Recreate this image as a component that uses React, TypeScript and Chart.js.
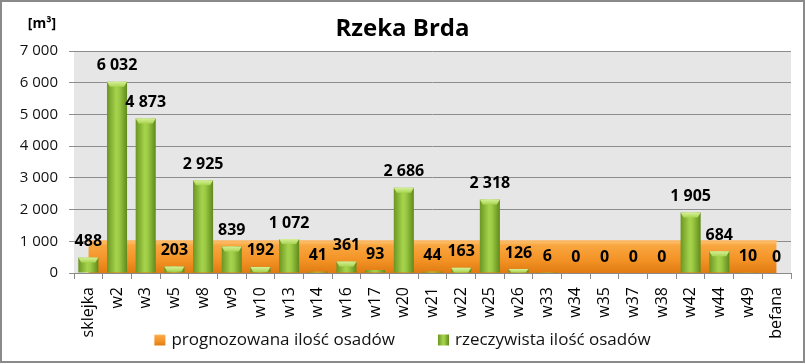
import React, { useEffect, useRef } from 'react';
import { Chart, registerables } from 'chart.js';

Chart.register(...registerables);

const chartTitle = 'Rzeka Brda';
const unitLabel = '[m³]';
const categories = ['sklejka', 'w2', 'w3', 'w5', 'w8', 'w9', 'w10', 'w13', 'w14', 'w16', 'w17', 'w20', 'w21', 'w22', 'w25', 'w26', 'w33', 'w34', 'w35', 'w37', 'w38', 'w42', 'w44', 'w49', 'befana'];
const forecastName = 'prognozowana ilość osadów';
const actualName = 'rzeczywista ilość osadów';
const forecastValues = [1000, 1000, 1000, 1000, 1000, 1000, 1000, 1000, 1000, 1000, 1000, 1000, 1000, 1000, 1000, 1000, 1000, 1000, 1000, 1000, 1000, 1000, 1000, 1000, 1000];
const actualValues = [488, 6032, 4873, 203, 2925, 839, 192, 1072, 41, 361, 93, 2686, 44, 163, 2318, 126, 6, 0, 0, 0, 0, 1905, 684, 10, 0];
const yTickValues = [0, 1000, 2000, 3000, 4000, 5000, 6000, 7000];

const FONT = '"Open Sans", "Liberation Sans", sans-serif';

const fmt = (v: number) => String(v).replace(/\B(?=(\d{3})+(?!\d))/g, ' ');

function orangeGradient(ctx: CanvasRenderingContext2D, yTop: number, yBot: number) {
  const g = ctx.createLinearGradient(0, yTop, 0, yBot);
  g.addColorStop(0, '#fcc676');
  g.addColorStop(0.12, '#f9a741');
  g.addColorStop(0.6, '#f39225');
  g.addColorStop(1, '#e07b12');
  return g;
}

function greenGradient(ctx: CanvasRenderingContext2D, x0: number, x1: number) {
  const g = ctx.createLinearGradient(x0, 0, x1, 0);
  g.addColorStop(0, '#6a9622');
  g.addColorStop(0.45, '#a6d34c');
  g.addColorStop(0.6, '#9ecb45');
  g.addColorStop(1, '#5f8a1c');
  return g;
}

const decorPlugin = {
  id: 'decor',
  beforeDraw(chart: any) {
    const { ctx, chartArea, width, height } = chart;
    ctx.save();
    ctx.fillStyle = '#ffffff';
    ctx.fillRect(0, 0, width, height);
    ctx.fillStyle = '#e6e6e6';
    ctx.fillRect(chartArea.left, chartArea.top, chartArea.right - chartArea.left, chartArea.bottom - chartArea.top);
    ctx.restore();
  },
  afterDatasetsDraw(chart: any) {
    const { ctx } = chart;
    const meta = chart.getDatasetMeta(1);
    ctx.save();
    meta.data.forEach((el: any) => {
      const h = el.base - el.y;
      if (h > 3) {
        const capH = Math.min(5, h);
        const g = ctx.createLinearGradient(0, el.y, 0, el.y + capH);
        g.addColorStop(0, '#d6f096');
        g.addColorStop(1, '#a9d452');
        ctx.fillStyle = g;
        ctx.beginPath();
        ctx.moveTo(el.x - el.width / 2, el.y);
        ctx.lineTo(el.x + el.width / 2, el.y);
        ctx.lineTo(el.x + el.width / 2 - 3, el.y + capH);
        ctx.lineTo(el.x - el.width / 2 + 3, el.y + capH);
        ctx.closePath();
        ctx.fill();
      }
    });
    ctx.fillStyle = '#000000';
    ctx.font = `bold 16px ${FONT}`;
    ctx.textAlign = 'center';
    ctx.textBaseline = 'middle';
    meta.data.forEach((el: any, i: number) => {
      ctx.fillText(fmt(actualValues[i]), el.x, el.y - 16);
    });
    ctx.restore();
  },
  afterDraw(chart: any) {
    const { ctx, width, height } = chart;
    ctx.save();
    // title
    ctx.fillStyle = '#000000';
    ctx.font = `bold 24px ${FONT}`;
    ctx.textAlign = 'center';
    ctx.textBaseline = 'middle';
    ctx.fillText(chartTitle, width / 2, 29);
    ctx.font = `bold 14px ${FONT}`;
    ctx.fillText(unitLabel, 42, 24);
    // legend
    ctx.font = `17px ${FONT}`;
    const box = 11;
    const gapText = 6;
    const gapItem = 43;
    const w1 = ctx.measureText(forecastName).width;
    const w2 = ctx.measureText(actualName).width;
    const total = box + gapText + w1 + gapItem + box + gapText + w2;
    let x = (width - total) / 2;
    const y = 340;
    ctx.fillStyle = orangeGradient(ctx, y - box / 2, y + box / 2);
    ctx.fillRect(x, y - box / 2, box, box);
    ctx.fillStyle = '#111';
    ctx.textAlign = 'left';
    ctx.fillText(forecastName, x + box + gapText, y);
    x += box + gapText + w1 + gapItem;
    ctx.fillStyle = greenGradient(ctx, x, x + box);
    ctx.fillRect(x, y - box / 2, box, box);
    ctx.fillStyle = '#111';
    ctx.fillText(actualName, x + box + gapText, y);
    // outer border
    ctx.strokeStyle = '#8a8a8a';
    ctx.lineWidth = 2;
    ctx.strokeRect(1, 1, width - 2, height - 3);
    ctx.restore();
  },
};

export default function App() {
  const canvasRef = useRef<HTMLCanvasElement | null>(null);

  useEffect(() => {
    document.body.style.margin = '0';
    const canvas = canvasRef.current;
    if (!canvas) return;
    const chart = new Chart(canvas, {
      type: 'bar',
      data: {
        labels: categories,
        datasets: [
          {
            type: 'line',
            label: forecastName,
            data: forecastValues,
            order: 2,
            fill: 'origin',
            pointRadius: 0,
            tension: 0,
            borderColor: '#fbb55e',
            borderWidth: 2,
            backgroundColor: (c: any) => {
              const ch = c.chart;
              if (!ch.chartArea) return '#f39423';
              const ys = ch.scales.y;
              return orangeGradient(ch.ctx, ys.getPixelForValue(Math.max(...forecastValues)), ys.getPixelForValue(0));
            },
          } as any,
          {
            type: 'bar',
            label: actualName,
            data: actualValues,
            order: 1,
            barPercentage: 0.7,
            categoryPercentage: 1,
            backgroundColor: (c: any) => {
              const ch = c.chart;
              if (!ch.chartArea) return '#8dbb3a';
              const xs = ch.scales.x;
              const cx = xs.getPixelForValue(c.dataIndex);
              const w = (xs.width / categories.length) * 0.7;
              return greenGradient(ch.ctx, cx - w / 2, cx + w / 2);
            },
          },
        ],
      },
      options: {
        responsive: false,
        animation: false,
        devicePixelRatio: 1,
        layout: { padding: { top: 51, left: 8, right: 14, bottom: 21 } },
        plugins: {
          legend: { display: false },
          title: { display: false },
          tooltip: { enabled: false },
        },
        scales: {
          x: {
            offset: true,
            grid: { drawOnChartArea: false, drawTicks: true, tickLength: 6, color: '#8a8a8a', offset: true },
            border: { display: true, color: '#8a8a8a' },
            ticks: {
              autoSkip: false,
              minRotation: 90,
              maxRotation: 90,
              padding: 8,
              color: '#000',
              font: { family: FONT, size: 16 },
            },
            afterFit: (s: any) => { s.height = 70; },
          },
          y: {
            min: 0,
            max: 7000,
            grid: { color: '#8c8c8c', tickLength: 5, drawTicks: true },
            border: { display: false },
            ticks: {
              padding: 11,
              color: '#111',
              font: { family: FONT, size: 15 },
              callback: (v: any) => fmt(Number(v)),
            },
            afterBuildTicks: (s: any) => { s.ticks = yTickValues.map((v) => ({ value: v })); },
            afterFit: (s: any) => { s.width = 66; },
          },
        },
      } as any,
      plugins: [decorPlugin],
    });
    return () => chart.destroy();
  }, []);

  return (
    <div style={{ width: 805, height: 364, position: 'relative' }}>
      <canvas ref={canvasRef} width={805} height={364} style={{ display: 'block', width: 805, height: 364 }} />
    </div>
  );
}
